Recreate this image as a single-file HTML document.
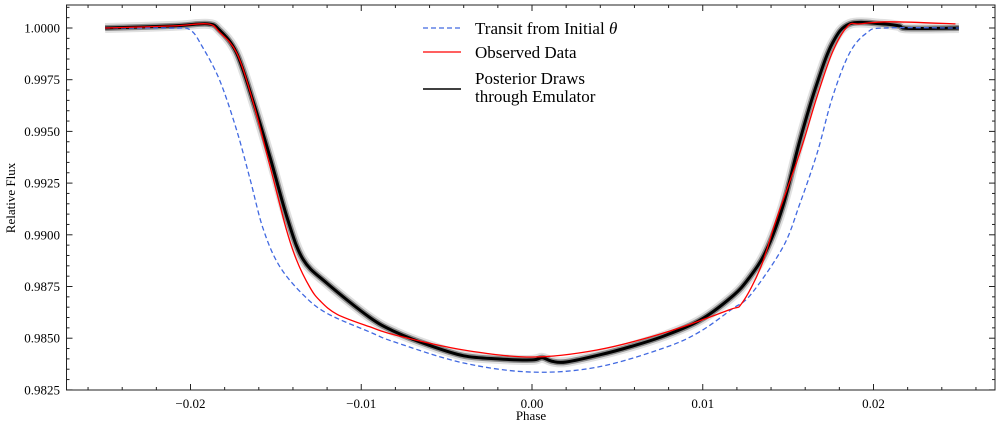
<!DOCTYPE html>
<html><head><meta charset="utf-8"><style>
body{margin:0;background:#fff}
svg{display:block;font-family:"Liberation Serif",serif}
</style></head><body>
<svg id="chart" width="1001" height="430"></svg>
<script>
const blueX=[-0.025,-0.0210,-0.0200,-0.0193,-0.0183,-0.0173,-0.0165,-0.01575,-0.0148,-0.0134,-0.0120,-0.0095,-0.0080,-0.0040,0.0,0.0038,0.0077,0.0098,0.0117,0.0128,0.0147,0.0157,0.0167,0.0176,0.0186,0.0196,0.0206,0.025];
const blueY=[1.0,1.0,0.9999,0.99908,0.99749,0.99507,0.99265,0.99030,0.98850,0.98710,0.98620,0.98530,0.98480,0.98380,0.98336,0.98360,0.98452,0.98530,0.98640,0.98710,0.98941,0.99154,0.99396,0.99666,0.99879,0.99976,1.0,1.0];
const redX=[-0.025,-0.0210,-0.0190,-0.0183,-0.0173,-0.0164,-0.0154,-0.0144,-0.0138,-0.0130,-0.0124,-0.0114,-0.0095,-0.0080,-0.0040,0.0,0.0038,0.0077,0.0115,0.0123,0.0134,0.0143,0.0157,0.0167,0.0176,0.0185,0.0192,0.0210,0.0248];
const redY=[1.0,1.0001,1.0002,0.9998,0.9988,0.9966,0.9935,0.9903,0.9888,0.98745,0.9868,0.98615,0.98555,0.98515,0.98443,0.98409,0.98443,0.98525,0.98636,0.98670,0.98844,0.99072,0.99400,0.99671,0.99884,1.0001,1.0002,1.0003,1.0002];
const blackX=[-0.025,-0.0210,-0.0190,-0.0183,-0.0173,-0.0163,-0.0153,-0.0143,-0.0134,-0.0120,-0.0095,-0.0080,-0.0060,-0.0040,-0.0020,0.0,0.0006,0.0012,0.0020,0.0040,0.0058,0.0077,0.0098,0.0117,0.0127,0.0137,0.0147,0.0157,0.0167,0.0176,0.0186,0.0205,0.0215,0.0220,0.025];
const blackY=[1.0,1.0001,1.0002,0.9999,0.99879,0.99637,0.99362,0.99072,0.98880,0.98765,0.98600,0.98530,0.98465,0.98415,0.98400,0.98395,0.98405,0.98388,0.98385,0.98420,0.98460,0.98510,0.98585,0.98700,0.98790,0.98920,0.99140,0.99460,0.99734,0.99927,1.0002,1.0002,1.0001,0.99998,1.0];
const xTicks=[-0.02,-0.01,0.0,0.01,0.02];
const xTickLabels=["\u22120.02","\u22120.01","0.00","0.01","0.02"];
const yTicks=[0.9825,0.9850,0.9875,0.9900,0.9925,0.9950,0.9975,1.0000];
const yTickLabels=["0.9825","0.9850","0.9875","0.9900","0.9925","0.9950","0.9975","1.0000"];

const L=66.5,R=995,T=5,B=390;
const sx=v=>532+v*17075;
const sy=v=>28+(1.0-v)/0.0025*51.7;
const svg=document.getElementById('chart');
const NS='http://www.w3.org/2000/svg';
function mk(tag,attrs,parent){const e=document.createElementNS(NS,tag);for(const k in attrs)e.setAttribute(k,attrs[k]);(parent||svg).appendChild(e);return e;}
function path(xa,ya){const p=xa.map((x,i)=>[sx(x),sy(ya[i])]);let d='M'+p[0][0].toFixed(1)+','+p[0][1].toFixed(1);
 for(let i=0;i<p.length-1;i++){const p0=p[Math.max(0,i-1)],p1=p[i],p2=p[i+1],p3=p[Math.min(p.length-1,i+2)];
  const c1=[p1[0]+(p2[0]-p0[0])/6,p1[1]+(p2[1]-p0[1])/6],c2=[p2[0]-(p3[0]-p1[0])/6,p2[1]-(p3[1]-p1[1])/6];
  d+='C'+c1[0].toFixed(1)+','+c1[1].toFixed(1)+' '+c2[0].toFixed(1)+','+c2[1].toFixed(1)+' '+p2[0].toFixed(1)+','+p2[1].toFixed(1);}
 return d;}

const band=mk('path',{d:path(blackX,blackY),fill:'none',stroke:'#999','stroke-width':10,'stroke-opacity':0.3,'stroke-linejoin':'round'});


const band2=mk('path',{d:path(blackX,blackY),fill:'none',stroke:'#333','stroke-width':6,'stroke-opacity':0.5,'stroke-linejoin':'round'});


const bl=mk('path',{d:path(blackX,blackY),fill:'none',stroke:'#000','stroke-width':3,'stroke-linejoin':'round'});


const blu=mk('path',{d:path(blueX,blueY),fill:'none',stroke:'#4169e1','stroke-width':1.3,'stroke-dasharray':'5,3'});


const rd=mk('path',{d:path(redX,redY),fill:'none',stroke:'#ff0000','stroke-width':1.3});



const ax=mk('rect',{x:L,y:T,width:R-L,height:B-T,fill:'none',stroke:'#222','stroke-width':1});



for(let v=-0.026;v<=0.0271;v+=0.002){const x=sx(v);const major=xTicks.some(t=>Math.abs(t-v)<1e-6);const len=major?6:3;
 mk('line',{x1:x,x2:x,y1:B,y2:B-len,stroke:'#222','stroke-width':1});
 mk('line',{x1:x,x2:x,y1:T,y2:T+len,stroke:'#222','stroke-width':1});}
xTicks.forEach((v,i)=>{const t=mk('text',{x:sx(v),y:408,'text-anchor':'middle','font-size':13});t.textContent=xTickLabels[i];
 
 });
for(let v=0.9825;v<=1.0011;v+=0.0005){const y=sy(v);const major=yTicks.some(t=>Math.abs(t-v)<1e-7);const len=major?6:3;
 mk('line',{x1:L,x2:L+len,y1:y,y2:y,stroke:'#222','stroke-width':1});
 mk('line',{x1:R,x2:R-len,y1:y,y2:y,stroke:'#222','stroke-width':1});}
yTicks.forEach((v,i)=>{const t=mk('text',{x:60,y:sy(v)+4.5,'text-anchor':'end','font-size':13});t.textContent=yTickLabels[i];
 
 });

const xl=mk('text',{x:531,y:420,'text-anchor':'middle','font-size':13});xl.textContent='Phase';


const yl=mk('text',{x:0,y:0,'text-anchor':'middle','font-size':13,transform:'translate(15,198) rotate(-90)'});yl.textContent='Relative Flux';



const lg=mk('g',{});


mk('line',{x1:423,x2:461,y1:28,y2:28,stroke:'#4169e1','stroke-width':1.3,'stroke-dasharray':'5,3'},lg);
mk('line',{x1:423,x2:461,y1:52,y2:52,stroke:'#ff0000','stroke-width':1.3},lg);
mk('line',{x1:423,x2:461,y1:89,y2:89,stroke:'#000','stroke-width':1.5},lg);
const t1=mk('text',{x:475,y:34,'font-size':17},lg);t1.innerHTML='Transit from Initial <tspan font-style="italic">θ</tspan>';


const t2=mk('text',{x:475,y:58,'font-size':17},lg);t2.textContent='Observed Data';


const t3=mk('text',{x:475,y:84,'font-size':17},lg);t3.textContent='Posterior Draws';


const t4=mk('text',{x:475,y:102,'font-size':17},lg);t4.textContent='through Emulator';


</script>
</body></html>
